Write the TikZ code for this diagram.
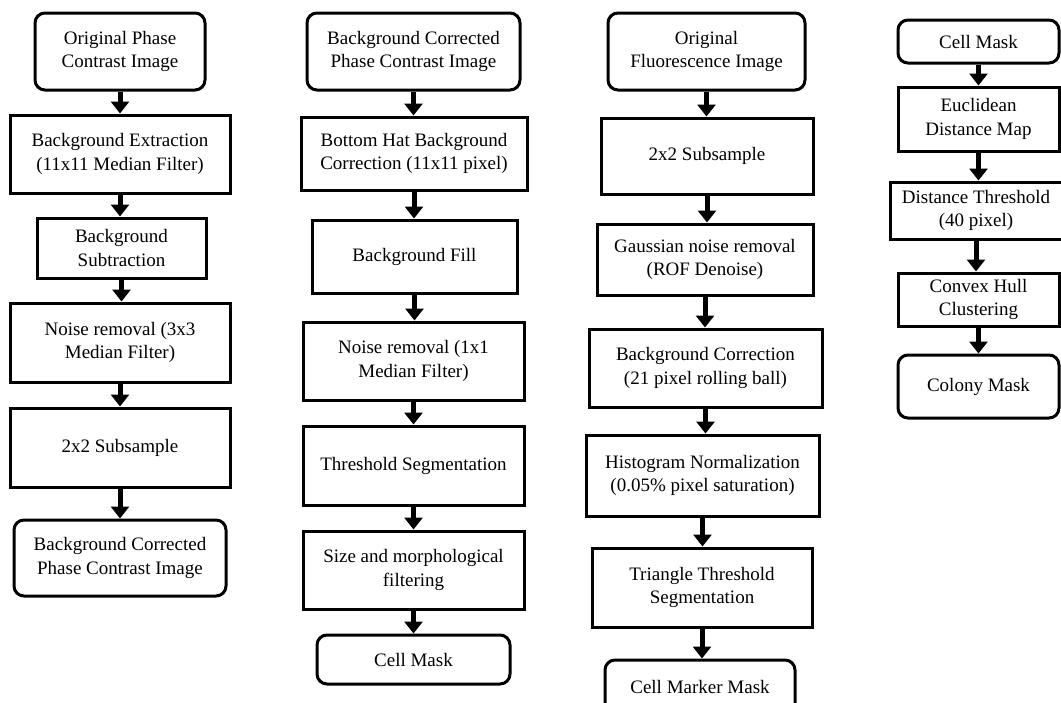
\documentclass[tikz,border=0pt]{standalone}
\usepackage{fontspec}
\setmainfont{Liberation Serif}
\usetikzlibrary{arrows.meta}

\begin{document}
\begin{tikzpicture}[x=1pt, y=-1pt,
  stage/.style={draw=black, line width=3pt, align=center, inner sep=0pt,
    font=\fontsize{19}{23.5}\selectfont},
  ends/.style={stage, rounded corners=10pt},
  flow/.style={line width=5pt, -{Triangle[width=18pt, length=12pt]}}]
\clip (0,0) rectangle (1061,702);
% phase contrast background correction
\node [ends, minimum width=170pt, minimum height=77pt] (c1a) at (120,51.5) {Original Phase\\Contrast Image};
\node [stage, minimum width=220pt, minimum height=78pt] (c1b) at (120,154) {Background Extraction\\(11x11 Median Filter)};
\node [stage, minimum width=169pt, minimum height=60pt] (c1c) at (121.5,248) {Background\\Subtraction};
\node [stage, minimum width=220pt, minimum height=79pt] (c1d) at (120,342.5) {Noise removal (3x3\\Median Filter)};
\node [stage, minimum width=220pt, minimum height=79pt] (c1e) at (120,447.5) {2x2 Subsample};
\node [ends, minimum width=212pt, minimum height=76pt] (c1f) at (120,558) {Background Corrected\\Phase Contrast Image};
% cell segmentation
\node [ends, minimum width=213pt, minimum height=77pt] (c2a) at (413.5,51.5) {Background Corrected\\Phase Contrast Image};
\node [stage, minimum width=226pt, minimum height=73pt] (c2b) at (414,153.5) {Bottom Hat Background\\Correction (11x11 pixel)};
\node [stage, minimum width=205pt, minimum height=73pt] (c2c) at (414.5,256.5) {Background Fill};
\node [stage, minimum width=221pt, minimum height=78pt] (c2d) at (413.5,361) {Noise removal (1x1\\Median Filter)};
\node [stage, minimum width=221pt, minimum height=79pt] (c2e) at (413.5,465.5) {Threshold Segmentation};
\node [stage, minimum width=221pt, minimum height=78pt] (c2f) at (413.5,570) {Size and morphological\\filtering};
\node [ends, minimum width=193pt, minimum height=49pt] (c2g) at (413.5,659.5) {Cell Mask};
% fluorescence marker
\node [ends, minimum width=197pt, minimum height=77pt] (c3a) at (706.5,51.5) {Original\\Fluorescence Image};
\node [stage, minimum width=212pt, minimum height=76pt] (c3b) at (707,156) {2x2 Subsample};
\node [stage, minimum width=216pt, minimum height=71pt] (c3c) at (705,259.5) {Gaussian noise removal\\(ROF Denoise)};
\node [stage, minimum width=233pt, minimum height=78pt] (c3d) at (705.5,368) {Background Correction\\(21 pixel rolling ball)};
\node [stage, minimum width=233pt, minimum height=81pt] (c3e) at (702.5,475.5) {Histogram Normalization\\(0.05\% pixel saturation)};
\node [stage, minimum width=220pt, minimum height=79pt] (c3f) at (702,587.5) {Triangle Threshold\\Segmentation};
\node [ends, minimum width=190pt, minimum height=54pt] (c3g) at (700,687) {Cell Marker Mask};
% colony clustering
\node [ends, minimum width=161pt, minimum height=43pt] (c4a) at (978.5,41.5) {Cell Mask};
\node [stage, minimum width=161pt, minimum height=64pt] (c4b) at (978.5,119) {Euclidean\\Distance Map};
\node [stage, minimum width=172pt, minimum height=57pt] (c4c) at (976,210.5) {Distance Threshold\\(40 pixel)};
\node [stage, minimum width=161pt, minimum height=53pt] (c4d) at (978.5,299.5) {Convex Hull\\Clustering};
\node [ends, minimum width=161pt, minimum height=63pt] (c4e) at (978.5,386.5) {Colony Mask};
% arrows
\foreach \a/\b in {c1a/c1b, c1b/c1c, c1c/c1d, c1d/c1e, c1e/c1f,
                   c2a/c2b, c2b/c2c, c2c/c2d, c2d/c2e, c2e/c2f, c2f/c2g,
                   c3a/c3b, c3b/c3c, c3c/c3d, c3d/c3e, c3e/c3f, c3f/c3g,
                   c4a/c4b, c4b/c4c, c4c/c4d, c4d/c4e}
  \draw [flow] (\a.south) -- (\a.south |- \b.north);
\end{tikzpicture}
\end{document}
